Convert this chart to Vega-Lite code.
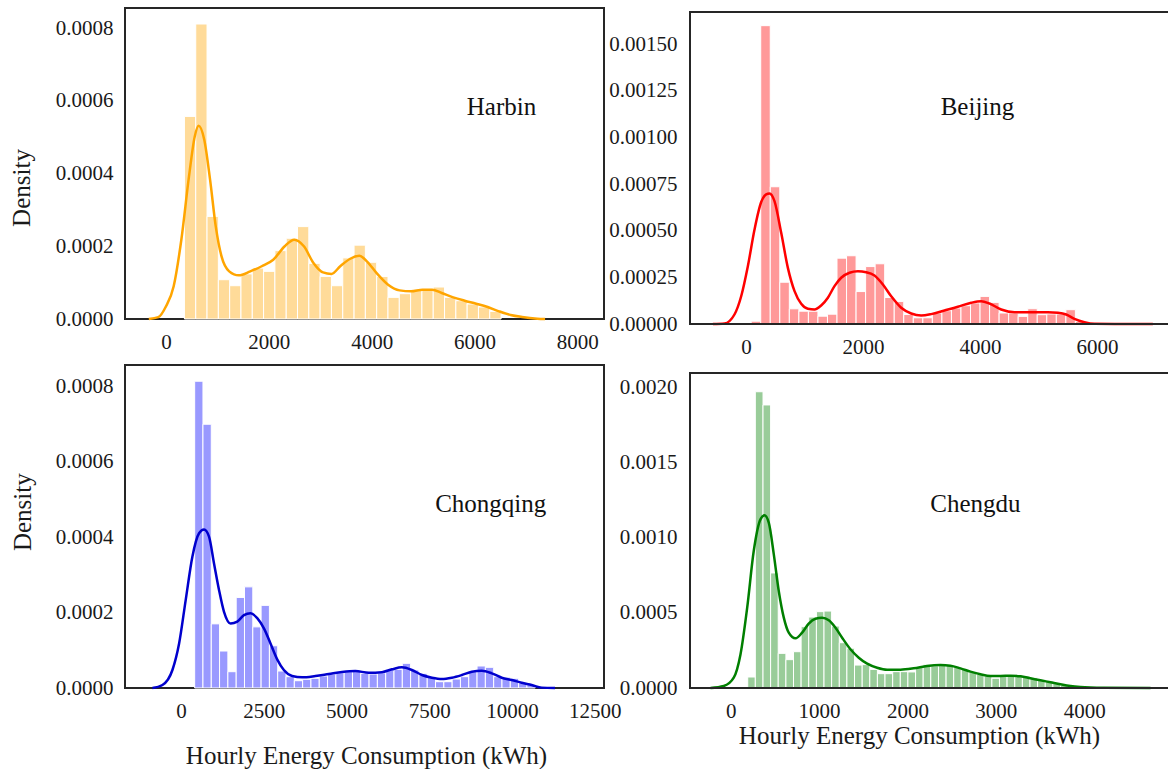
{
  "$schema": "https://vega.github.io/schema/vega-lite/v6.json",
  "padding": {"left": 8, "top": 7, "right": 0, "bottom": 0},
  "background": "white",
  "config": {
    "font": "Liberation Serif",
    "view": {"stroke": "#262626", "strokeWidth": 2},
    "axis": {
      "grid": false, "ticks": false, "domain": false,
      "labelFont": "Liberation Serif", "labelFontSize": 21, "labelColor": "#1a1a1a",
      "titleFont": "Liberation Serif", "titleFontSize": 25, "titleFontWeight": "normal", "titleColor": "#1a1a1a",
      "labelPadding": 12, "labelFlush": false, "labelOverlap": false
    }
  },
  "datasets": {
    "harbin_bars": [
      {"bin_start": 358, "bin_end": 578, "density": 0.000557},
      {"bin_start": 578, "bin_end": 798, "density": 0.000811},
      {"bin_start": 798, "bin_end": 1018, "density": 0.000282},
      {"bin_start": 1018, "bin_end": 1238, "density": 0.000108},
      {"bin_start": 1238, "bin_end": 1458, "density": 0.0000915},
      {"bin_start": 1458, "bin_end": 1678, "density": 0.000124},
      {"bin_start": 1678, "bin_end": 1898, "density": 0.00014},
      {"bin_start": 1898, "bin_end": 2118, "density": 0.000131},
      {"bin_start": 2118, "bin_end": 2338, "density": 0.000188},
      {"bin_start": 2338, "bin_end": 2558, "density": 0.000222},
      {"bin_start": 2558, "bin_end": 2778, "density": 0.000254},
      {"bin_start": 2778, "bin_end": 2998, "density": 0.000153},
      {"bin_start": 2998, "bin_end": 3218, "density": 0.000117},
      {"bin_start": 3218, "bin_end": 3438, "density": 0.0000915},
      {"bin_start": 3438, "bin_end": 3658, "density": 0.000168},
      {"bin_start": 3658, "bin_end": 3878, "density": 0.000203},
      {"bin_start": 3878, "bin_end": 4098, "density": 0.000156},
      {"bin_start": 4098, "bin_end": 4318, "density": 0.000117},
      {"bin_start": 4318, "bin_end": 4538, "density": 0.0000595},
      {"bin_start": 4538, "bin_end": 4758, "density": 0.0000696},
      {"bin_start": 4758, "bin_end": 4978, "density": 0.0000787},
      {"bin_start": 4978, "bin_end": 5198, "density": 0.0000824},
      {"bin_start": 5198, "bin_end": 5418, "density": 0.0000879},
      {"bin_start": 5418, "bin_end": 5638, "density": 0.0000595},
      {"bin_start": 5638, "bin_end": 5858, "density": 0.0000503},
      {"bin_start": 5858, "bin_end": 6078, "density": 0.0000412},
      {"bin_start": 6078, "bin_end": 6298, "density": 0.000033},
      {"bin_start": 6298, "bin_end": 6518, "density": 0.000021}
    ],
    "harbin_kde": [
      {"x": -335, "density": 0}, {"x": -149, "density": 0.000005}, {"x": 0, "density": 0.000035},
      {"x": 149, "density": 0.00009}, {"x": 298, "density": 0.000218}, {"x": 447, "density": 0.000392},
      {"x": 559, "density": 0.000502}, {"x": 633, "density": 0.000531}, {"x": 745, "density": 0.000492},
      {"x": 857, "density": 0.000383}, {"x": 968, "density": 0.000254}, {"x": 1080, "density": 0.000172},
      {"x": 1229, "density": 0.000131}, {"x": 1415, "density": 0.00012}, {"x": 1639, "density": 0.000131},
      {"x": 1862, "density": 0.000145}, {"x": 2086, "density": 0.000163}, {"x": 2309, "density": 0.0002},
      {"x": 2495, "density": 0.000218}, {"x": 2682, "density": 0.0002}, {"x": 2868, "density": 0.000154},
      {"x": 3054, "density": 0.000128}, {"x": 3218, "density": 0.000124}, {"x": 3389, "density": 0.000145},
      {"x": 3575, "density": 0.000165}, {"x": 3762, "density": 0.000174}, {"x": 3911, "density": 0.000158},
      {"x": 4097, "density": 0.000126}, {"x": 4320, "density": 0.0000943}, {"x": 4544, "density": 0.0000787},
      {"x": 4767, "density": 0.000076}, {"x": 4991, "density": 0.0000805}, {"x": 5177, "density": 0.0000805},
      {"x": 5363, "density": 0.0000714}, {"x": 5587, "density": 0.0000595}, {"x": 5810, "density": 0.0000503},
      {"x": 6034, "density": 0.0000421}, {"x": 6257, "density": 0.000033}, {"x": 6480, "density": 0.000021},
      {"x": 6704, "density": 0.000011}, {"x": 6927, "density": 0.0000055}, {"x": 7225, "density": 0.000001},
      {"x": 7374, "density": 0}
    ],
    "beijing_bars": [
      {"bin_start": 89, "bin_end": 252, "density": 0.000015},
      {"bin_start": 252, "bin_end": 415, "density": 0.0016},
      {"bin_start": 415, "bin_end": 578, "density": 0.000736},
      {"bin_start": 578, "bin_end": 741, "density": 0.000224},
      {"bin_start": 741, "bin_end": 904, "density": 0.0000815},
      {"bin_start": 904, "bin_end": 1067, "density": 0.0000687},
      {"bin_start": 1067, "bin_end": 1230, "density": 0.0000687},
      {"bin_start": 1230, "bin_end": 1393, "density": 0.0000419},
      {"bin_start": 1393, "bin_end": 1556, "density": 0.0000526},
      {"bin_start": 1556, "bin_end": 1719, "density": 0.000353},
      {"bin_start": 1719, "bin_end": 1882, "density": 0.000366},
      {"bin_start": 1882, "bin_end": 2045, "density": 0.000174},
      {"bin_start": 2045, "bin_end": 2208, "density": 0.000308},
      {"bin_start": 2208, "bin_end": 2371, "density": 0.000323},
      {"bin_start": 2371, "bin_end": 2534, "density": 0.000142},
      {"bin_start": 2534, "bin_end": 2697, "density": 0.000121},
      {"bin_start": 2697, "bin_end": 2860, "density": 0.000051},
      {"bin_start": 2860, "bin_end": 3023, "density": 0.0000333},
      {"bin_start": 3023, "bin_end": 3186, "density": 0.0000333},
      {"bin_start": 3186, "bin_end": 3349, "density": 0.000059},
      {"bin_start": 3349, "bin_end": 3512, "density": 0.0000714},
      {"bin_start": 3512, "bin_end": 3675, "density": 0.0000858},
      {"bin_start": 3675, "bin_end": 3838, "density": 0.0000982},
      {"bin_start": 3838, "bin_end": 4001, "density": 0.000113},
      {"bin_start": 4001, "bin_end": 4164, "density": 0.000148},
      {"bin_start": 4164, "bin_end": 4327, "density": 0.000116},
      {"bin_start": 4327, "bin_end": 4490, "density": 0.000059},
      {"bin_start": 4490, "bin_end": 4653, "density": 0.000059},
      {"bin_start": 4653, "bin_end": 4816, "density": 0.0000408},
      {"bin_start": 4816, "bin_end": 4979, "density": 0.000082},
      {"bin_start": 4979, "bin_end": 5142, "density": 0.00005},
      {"bin_start": 5142, "bin_end": 5305, "density": 0.0000537},
      {"bin_start": 5305, "bin_end": 5468, "density": 0.0000537},
      {"bin_start": 5468, "bin_end": 5631, "density": 0.0000767},
      {"bin_start": 5631, "bin_end": 5794, "density": 0.000014}
    ],
    "beijing_kde": [
      {"x": -566, "density": 0}, {"x": -367, "density": 0.000003}, {"x": -197, "density": 0.000051},
      {"x": -82, "density": 0.000149}, {"x": 32, "density": 0.00031}, {"x": 146, "density": 0.000507},
      {"x": 260, "density": 0.000654}, {"x": 345, "density": 0.000695}, {"x": 402, "density": 0.0007},
      {"x": 487, "density": 0.000659}, {"x": 602, "density": 0.000489}, {"x": 716, "density": 0.000301},
      {"x": 830, "density": 0.000176}, {"x": 944, "density": 0.000108}, {"x": 1058, "density": 0.0000815},
      {"x": 1171, "density": 0.0000778}, {"x": 1285, "density": 0.0000993}, {"x": 1400, "density": 0.000141},
      {"x": 1513, "density": 0.000203}, {"x": 1627, "density": 0.000248}, {"x": 1770, "density": 0.000275},
      {"x": 1912, "density": 0.000283}, {"x": 2055, "density": 0.000278}, {"x": 2197, "density": 0.00026},
      {"x": 2340, "density": 0.000212}, {"x": 2482, "density": 0.000149}, {"x": 2653, "density": 0.0000869},
      {"x": 2824, "density": 0.0000563}, {"x": 2995, "density": 0.0000456}, {"x": 3166, "density": 0.000053},
      {"x": 3393, "density": 0.0000724}, {"x": 3622, "density": 0.0000923}, {"x": 3850, "density": 0.000114},
      {"x": 4021, "density": 0.000122}, {"x": 4162, "density": 0.00011}, {"x": 4362, "density": 0.0000778},
      {"x": 4590, "density": 0.0000633}, {"x": 4875, "density": 0.0000633}, {"x": 5161, "density": 0.0000633},
      {"x": 5332, "density": 0.0000601}, {"x": 5473, "density": 0.000051}, {"x": 5615, "density": 0.0000279},
      {"x": 5786, "density": 0.0000097}, {"x": 5957, "density": 0.000001}, {"x": 6299, "density": 0},
      {"x": 6955, "density": 0}
    ],
    "chongqing_bars": [
      {"bin_start": 410, "bin_end": 661, "density": 0.000813},
      {"bin_start": 661, "bin_end": 912, "density": 0.000699},
      {"bin_start": 912, "bin_end": 1163, "density": 0.00017},
      {"bin_start": 1163, "bin_end": 1414, "density": 0.000098},
      {"bin_start": 1414, "bin_end": 1665, "density": 0.0000432},
      {"bin_start": 1665, "bin_end": 1916, "density": 0.00024},
      {"bin_start": 1916, "bin_end": 2167, "density": 0.000268},
      {"bin_start": 2167, "bin_end": 2418, "density": 0.000162},
      {"bin_start": 2418, "bin_end": 2669, "density": 0.000219},
      {"bin_start": 2669, "bin_end": 2920, "density": 0.000112},
      {"bin_start": 2920, "bin_end": 3171, "density": 0.000045},
      {"bin_start": 3171, "bin_end": 3422, "density": 0.00003},
      {"bin_start": 3422, "bin_end": 3673, "density": 0.0000193},
      {"bin_start": 3673, "bin_end": 3924, "density": 0.000023},
      {"bin_start": 3924, "bin_end": 4175, "density": 0.0000257},
      {"bin_start": 4175, "bin_end": 4426, "density": 0.0000318},
      {"bin_start": 4426, "bin_end": 4677, "density": 0.0000371},
      {"bin_start": 4677, "bin_end": 4928, "density": 0.0000405},
      {"bin_start": 4928, "bin_end": 5179, "density": 0.0000432},
      {"bin_start": 5179, "bin_end": 5430, "density": 0.0000477},
      {"bin_start": 5430, "bin_end": 5681, "density": 0.0000389},
      {"bin_start": 5681, "bin_end": 5932, "density": 0.0000371},
      {"bin_start": 5932, "bin_end": 6183, "density": 0.00004},
      {"bin_start": 6183, "bin_end": 6434, "density": 0.0000495},
      {"bin_start": 6434, "bin_end": 6685, "density": 0.0000495},
      {"bin_start": 6685, "bin_end": 6936, "density": 0.0000654},
      {"bin_start": 6936, "bin_end": 7187, "density": 0.0000477},
      {"bin_start": 7187, "bin_end": 7438, "density": 0.0000389},
      {"bin_start": 7438, "bin_end": 7689, "density": 0.00003},
      {"bin_start": 7689, "bin_end": 7940, "density": 0.0000167},
      {"bin_start": 7940, "bin_end": 8191, "density": 0.0000167},
      {"bin_start": 8191, "bin_end": 8442, "density": 0.0000238},
      {"bin_start": 8442, "bin_end": 8693, "density": 0.00003},
      {"bin_start": 8693, "bin_end": 8944, "density": 0.0000432},
      {"bin_start": 8944, "bin_end": 9195, "density": 0.0000583},
      {"bin_start": 9195, "bin_end": 9446, "density": 0.0000548},
      {"bin_start": 9446, "bin_end": 9697, "density": 0.00003},
      {"bin_start": 9697, "bin_end": 9948, "density": 0.0000287},
      {"bin_start": 9948, "bin_end": 10199, "density": 0.0000257},
      {"bin_start": 10199, "bin_end": 10450, "density": 0.000014},
      {"bin_start": 10450, "bin_end": 10701, "density": 0.0000098}
    ],
    "chongqing_kde": [
      {"x": -866, "density": 0}, {"x": -564, "density": 0.0000079}, {"x": -262, "density": 0.0000477},
      {"x": -60, "density": 0.000118}, {"x": 139, "density": 0.000233}, {"x": 341, "density": 0.000348},
      {"x": 543, "density": 0.00041}, {"x": 694, "density": 0.00042}, {"x": 844, "density": 0.000401},
      {"x": 995, "density": 0.00033}, {"x": 1146, "density": 0.00026}, {"x": 1297, "density": 0.000202},
      {"x": 1497, "density": 0.000171}, {"x": 1698, "density": 0.000176}, {"x": 1900, "density": 0.000193},
      {"x": 2099, "density": 0.000198}, {"x": 2301, "density": 0.000185}, {"x": 2503, "density": 0.000158},
      {"x": 2702, "density": 0.000118}, {"x": 2904, "density": 0.000076}, {"x": 3106, "density": 0.0000477},
      {"x": 3356, "density": 0.0000318}, {"x": 3658, "density": 0.0000283}, {"x": 4059, "density": 0.0000318},
      {"x": 4463, "density": 0.0000371}, {"x": 4864, "density": 0.0000424}, {"x": 5265, "density": 0.000045},
      {"x": 5669, "density": 0.0000405}, {"x": 6070, "density": 0.000042}, {"x": 6372, "density": 0.0000495},
      {"x": 6674, "density": 0.0000548}, {"x": 6976, "density": 0.0000477}, {"x": 7277, "density": 0.0000344},
      {"x": 7579, "density": 0.0000273}, {"x": 7880, "density": 0.0000238}, {"x": 8182, "density": 0.0000273},
      {"x": 8484, "density": 0.0000344}, {"x": 8785, "density": 0.0000432}, {"x": 9087, "density": 0.0000458},
      {"x": 9389, "density": 0.0000389}, {"x": 9690, "density": 0.0000273}, {"x": 9992, "density": 0.0000212},
      {"x": 10293, "density": 0.000014}, {"x": 10595, "density": 0.0000079}, {"x": 10897, "density": 0.000001},
      {"x": 11299, "density": 0}
    ],
    "chengdu_bars": [
      {"bin_start": 193, "bin_end": 279, "density": 0.0000733},
      {"bin_start": 279, "bin_end": 366, "density": 0.001975},
      {"bin_start": 366, "bin_end": 452, "density": 0.001887},
      {"bin_start": 452, "bin_end": 538, "density": 0.000767},
      {"bin_start": 538, "bin_end": 625, "density": 0.000231},
      {"bin_start": 625, "bin_end": 711, "density": 0.000189},
      {"bin_start": 711, "bin_end": 797, "density": 0.000242},
      {"bin_start": 797, "bin_end": 883, "density": 0.000409},
      {"bin_start": 883, "bin_end": 970, "density": 0.000473},
      {"bin_start": 970, "bin_end": 1056, "density": 0.000509},
      {"bin_start": 1056, "bin_end": 1142, "density": 0.000513},
      {"bin_start": 1142, "bin_end": 1229, "density": 0.000413},
      {"bin_start": 1229, "bin_end": 1315, "density": 0.000302},
      {"bin_start": 1315, "bin_end": 1401, "density": 0.000265},
      {"bin_start": 1401, "bin_end": 1488, "density": 0.000153},
      {"bin_start": 1488, "bin_end": 1574, "density": 0.000156},
      {"bin_start": 1574, "bin_end": 1660, "density": 0.000124},
      {"bin_start": 1660, "bin_end": 1746, "density": 0.0000956},
      {"bin_start": 1746, "bin_end": 1833, "density": 0.0000956},
      {"bin_start": 1833, "bin_end": 1919, "density": 0.000109},
      {"bin_start": 1919, "bin_end": 2005, "density": 0.000109},
      {"bin_start": 2005, "bin_end": 2092, "density": 0.000107},
      {"bin_start": 2092, "bin_end": 2178, "density": 0.000136},
      {"bin_start": 2178, "bin_end": 2264, "density": 0.000158},
      {"bin_start": 2264, "bin_end": 2351, "density": 0.000147},
      {"bin_start": 2351, "bin_end": 2437, "density": 0.000153},
      {"bin_start": 2437, "bin_end": 2523, "density": 0.000153},
      {"bin_start": 2523, "bin_end": 2609, "density": 0.00014},
      {"bin_start": 2609, "bin_end": 2696, "density": 0.000124},
      {"bin_start": 2696, "bin_end": 2782, "density": 0.000109},
      {"bin_start": 2782, "bin_end": 2868, "density": 0.0000913},
      {"bin_start": 2868, "bin_end": 2955, "density": 0.00008},
      {"bin_start": 2955, "bin_end": 3041, "density": 0.0000647},
      {"bin_start": 3041, "bin_end": 3127, "density": 0.0000847},
      {"bin_start": 3127, "bin_end": 3214, "density": 0.000087},
      {"bin_start": 3214, "bin_end": 3300, "density": 0.000087},
      {"bin_start": 3300, "bin_end": 3386, "density": 0.00008},
      {"bin_start": 3386, "bin_end": 3472, "density": 0.0000687},
      {"bin_start": 3472, "bin_end": 3559, "density": 0.000058},
      {"bin_start": 3559, "bin_end": 3645, "density": 0.000042},
      {"bin_start": 3645, "bin_end": 3731, "density": 0.0000287},
      {"bin_start": 3731, "bin_end": 3818, "density": 0.000018},
      {"bin_start": 3818, "bin_end": 3904, "density": 0.000011},
      {"bin_start": 3904, "bin_end": 3990, "density": 0.0000067},
      {"bin_start": 3990, "bin_end": 4077, "density": 0.0000044},
      {"bin_start": 4077, "bin_end": 4163, "density": 0.000003}
    ],
    "chengdu_kde": [
      {"x": -228, "density": 0}, {"x": -78, "density": 0.0000133}, {"x": 35, "density": 0.0000689},
      {"x": 111, "density": 0.000224}, {"x": 187, "density": 0.000536}, {"x": 261, "density": 0.000913},
      {"x": 337, "density": 0.001124}, {"x": 382, "density": 0.001151}, {"x": 431, "density": 0.001102},
      {"x": 488, "density": 0.000891}, {"x": 544, "density": 0.000647}, {"x": 601, "density": 0.000469},
      {"x": 657, "density": 0.000369}, {"x": 733, "density": 0.000331}, {"x": 809, "density": 0.000369},
      {"x": 883, "density": 0.000429}, {"x": 959, "density": 0.000462}, {"x": 1035, "density": 0.000469},
      {"x": 1110, "density": 0.000451}, {"x": 1186, "density": 0.000402}, {"x": 1261, "density": 0.000335},
      {"x": 1355, "density": 0.000258}, {"x": 1449, "density": 0.000202}, {"x": 1544, "density": 0.000162},
      {"x": 1657, "density": 0.000135}, {"x": 1770, "density": 0.000122}, {"x": 1921, "density": 0.000122},
      {"x": 2071, "density": 0.000131}, {"x": 2223, "density": 0.000147}, {"x": 2373, "density": 0.000153},
      {"x": 2486, "density": 0.000149}, {"x": 2600, "density": 0.000131}, {"x": 2713, "density": 0.000109},
      {"x": 2826, "density": 0.0000913}, {"x": 2939, "density": 0.00008}, {"x": 3052, "density": 0.00008},
      {"x": 3165, "density": 0.000082}, {"x": 3278, "density": 0.000078}, {"x": 3391, "density": 0.0000647},
      {"x": 3504, "density": 0.0000513}, {"x": 3618, "density": 0.000038}, {"x": 3731, "density": 0.0000247},
      {"x": 3844, "density": 0.0000133}, {"x": 3957, "density": 0.0000067}, {"x": 4070, "density": 0.000003},
      {"x": 4221, "density": 0.000001}, {"x": 4750, "density": 0}
    ],
    "labels": [
      {"city": "Harbin", "lx": 6525, "ly": 0.000583},
      {"city": "Beijing", "lx": 3957, "ly": 0.001166},
      {"city": "Chongqing", "lx": 9357, "ly": 0.000487},
      {"city": "Chengdu", "lx": 2769, "ly": 0.001225}
    ],
    "one": [{"k": 1}]
  },
  "columns": 2,
  "spacing": {"row": 41, "column": 86},
  "bounds": "flush",
  "concat": [
    {
      "width": 479, "height": 311,
      "layer": [
        {
          "data": {"name": "harbin_bars"},
          "mark": {"type": "rect", "fill": "#FFDB99", "stroke": "white", "strokeWidth": 1},
          "encoding": {
            "x": {"field": "bin_start", "type": "quantitative", "scale": {"domain": [-798, 8520], "nice": false, "zero": false}, "axis": {"values": [0, 2000, 4000, 6000, 8000], "format": "d", "title": null}},
            "x2": {"field": "bin_end"},
            "y": {"field": "density", "type": "quantitative", "scale": {"domain": [0, 0.000855], "nice": false}, "axis": {"values": [0, 0.0002, 0.0004, 0.0006, 0.0008], "format": ".4f", "title": "Density", "titleAngle": -90, "titleAlign": "center", "titleBaseline": "middle", "titleX": -103.6, "titleY": 179.5}},
            "y2": {"datum": 0}
          }
        },
        {
          "data": {"name": "harbin_kde"},
          "mark": {"type": "line", "color": "#FFA500", "strokeWidth": 2.5, "interpolate": "monotone"},
          "encoding": {"x": {"field": "x", "type": "quantitative"}, "y": {"field": "density", "type": "quantitative"}}
        },
        {
          "data": {"name": "labels"},
          "transform": [{"filter": "datum.city === 'Harbin'"}],
          "mark": {"type": "text", "fontSize": 25, "font": "Liberation Serif", "color": "#111111", "align": "center", "baseline": "middle"},
          "encoding": {"x": {"field": "lx", "type": "quantitative"}, "y": {"field": "ly", "type": "quantitative"}, "text": {"field": "city"}}
        }
      ]
    },
    {
      "width": 480, "height": 316,
      "view": {"stroke": null},
      "layer": [
        {
          "data": {"name": "beijing_bars"},
          "mark": {"type": "rect", "fill": "#FF9999", "stroke": "white", "strokeWidth": 1},
          "encoding": {
            "x": {"field": "bin_start", "type": "quantitative", "scale": {"domain": [-957, 7248], "nice": false, "zero": false}, "axis": {"values": [0, 2000, 4000, 6000], "format": "d", "title": null}},
            "x2": {"field": "bin_end"},
            "y": {"field": "density", "type": "quantitative", "scale": {"domain": [0, 0.0016947], "nice": false}, "axis": {"values": [0, 0.00025, 0.0005, 0.00075, 0.001, 0.00125, 0.0015], "format": ".5f", "title": null, "labelPadding": 13}},
            "y2": {"datum": 0}
          }
        },
        {
          "data": {"name": "beijing_kde"},
          "mark": {"type": "line", "color": "#FF0000", "strokeWidth": 2.5, "interpolate": "monotone"},
          "encoding": {"x": {"field": "x", "type": "quantitative"}, "y": {"field": "density", "type": "quantitative"}}
        },
        {
          "data": {"name": "labels"},
          "transform": [{"filter": "datum.city === 'Beijing'"}],
          "mark": {"type": "text", "fontSize": 25, "font": "Liberation Serif", "color": "#111111", "align": "center", "baseline": "middle"},
          "encoding": {"x": {"field": "lx", "type": "quantitative"}, "y": {"field": "ly", "type": "quantitative"}, "text": {"field": "city"}}
        },
        {
          "data": {"name": "one"},
          "mark": {"type": "rule", "color": "#262626", "strokeWidth": 2, "strokeCap": "square"},
          "encoding": {"x": {"datum": -957, "type": "quantitative"}, "x2": {"datum": 7248}, "y": {"datum": 0.001673, "type": "quantitative"}}
        },
        {
          "data": {"name": "one"},
          "mark": {"type": "rule", "color": "#262626", "strokeWidth": 2, "strokeCap": "square"},
          "encoding": {"x": {"datum": -957, "type": "quantitative"}, "y": {"datum": 0, "type": "quantitative"}, "y2": {"datum": 0.001673}}
        },
        {
          "data": {"name": "one"},
          "mark": {"type": "rule", "color": "#262626", "strokeWidth": 2, "strokeCap": "square"},
          "encoding": {"x": {"datum": -957, "type": "quantitative"}, "x2": {"datum": 7248}, "y": {"datum": 0, "type": "quantitative"}}
        }
      ]
    },
    {
      "width": 479, "height": 323,
      "layer": [
        {
          "data": {"name": "chongqing_bars"},
          "mark": {"type": "rect", "fill": "#9999FF", "stroke": "white", "strokeWidth": 1},
          "encoding": {
            "x": {"field": "bin_start", "type": "quantitative", "scale": {"domain": [-1695, 12780], "nice": false, "zero": false}, "axis": {"values": [0, 2500, 5000, 7500, 10000, 12500], "format": "d", "title": "Hourly Energy Consumption (kWh)", "titleAlign": "center", "titleBaseline": "middle", "titleX": 241, "titleY": 67}},
            "x2": {"field": "bin_end"},
            "y": {"field": "density", "type": "quantitative", "scale": {"domain": [0, 0.000856], "nice": false}, "axis": {"values": [0, 0.0002, 0.0004, 0.0006, 0.0008], "format": ".4f", "title": "Density", "titleAngle": -90, "titleAlign": "center", "titleBaseline": "middle", "titleX": -102.5, "titleY": 146.7}},
            "y2": {"datum": 0}
          }
        },
        {
          "data": {"name": "chongqing_kde"},
          "mark": {"type": "line", "color": "#0000CD", "strokeWidth": 2.5, "interpolate": "monotone"},
          "encoding": {"x": {"field": "x", "type": "quantitative"}, "y": {"field": "density", "type": "quantitative"}}
        },
        {
          "data": {"name": "labels"},
          "transform": [{"filter": "datum.city === 'Chongqing'"}],
          "mark": {"type": "text", "fontSize": 25, "font": "Liberation Serif", "color": "#111111", "align": "center", "baseline": "middle"},
          "encoding": {"x": {"field": "lx", "type": "quantitative"}, "y": {"field": "ly", "type": "quantitative"}, "text": {"field": "city"}}
        }
      ]
    },
    {
      "width": 480, "height": 323,
      "view": {"stroke": null},
      "layer": [
        {
          "data": {"name": "chengdu_bars"},
          "mark": {"type": "rect", "fill": "#99CC99", "stroke": "white", "strokeWidth": 1},
          "encoding": {
            "x": {"field": "bin_start", "type": "quantitative", "scale": {"domain": [-460, 4970], "nice": false, "zero": false}, "axis": {"values": [0, 1000, 2000, 3000, 4000], "format": "d", "title": "Hourly Energy Consumption (kWh)", "titleAlign": "center", "titleBaseline": "middle", "titleX": 229, "titleY": 47}},
            "x2": {"field": "bin_end"},
            "y": {"field": "density", "type": "quantitative", "scale": {"domain": [0, 0.0021533], "nice": false}, "axis": {"values": [0, 0.0005, 0.001, 0.0015, 0.002], "format": ".4f", "title": null, "labelPadding": 13}},
            "y2": {"datum": 0}
          }
        },
        {
          "data": {"name": "chengdu_kde"},
          "mark": {"type": "line", "color": "#007F00", "strokeWidth": 2.5, "interpolate": "monotone"},
          "encoding": {"x": {"field": "x", "type": "quantitative"}, "y": {"field": "density", "type": "quantitative"}}
        },
        {
          "data": {"name": "labels"},
          "transform": [{"filter": "datum.city === 'Chengdu'"}],
          "mark": {"type": "text", "fontSize": 25, "font": "Liberation Serif", "color": "#111111", "align": "center", "baseline": "middle"},
          "encoding": {"x": {"field": "lx", "type": "quantitative"}, "y": {"field": "ly", "type": "quantitative"}, "text": {"field": "city"}}
        },
        {
          "data": {"name": "one"},
          "mark": {"type": "rule", "color": "#262626", "strokeWidth": 2, "strokeCap": "square"},
          "encoding": {"x": {"datum": -460, "type": "quantitative"}, "x2": {"datum": 4970}, "y": {"datum": 0.0021, "type": "quantitative"}}
        },
        {
          "data": {"name": "one"},
          "mark": {"type": "rule", "color": "#262626", "strokeWidth": 2, "strokeCap": "square"},
          "encoding": {"x": {"datum": -460, "type": "quantitative"}, "y": {"datum": 0, "type": "quantitative"}, "y2": {"datum": 0.0021}}
        },
        {
          "data": {"name": "one"},
          "mark": {"type": "rule", "color": "#262626", "strokeWidth": 2, "strokeCap": "square"},
          "encoding": {"x": {"datum": -460, "type": "quantitative"}, "x2": {"datum": 4970}, "y": {"datum": 0, "type": "quantitative"}}
        }
      ]
    }
  ]
}
